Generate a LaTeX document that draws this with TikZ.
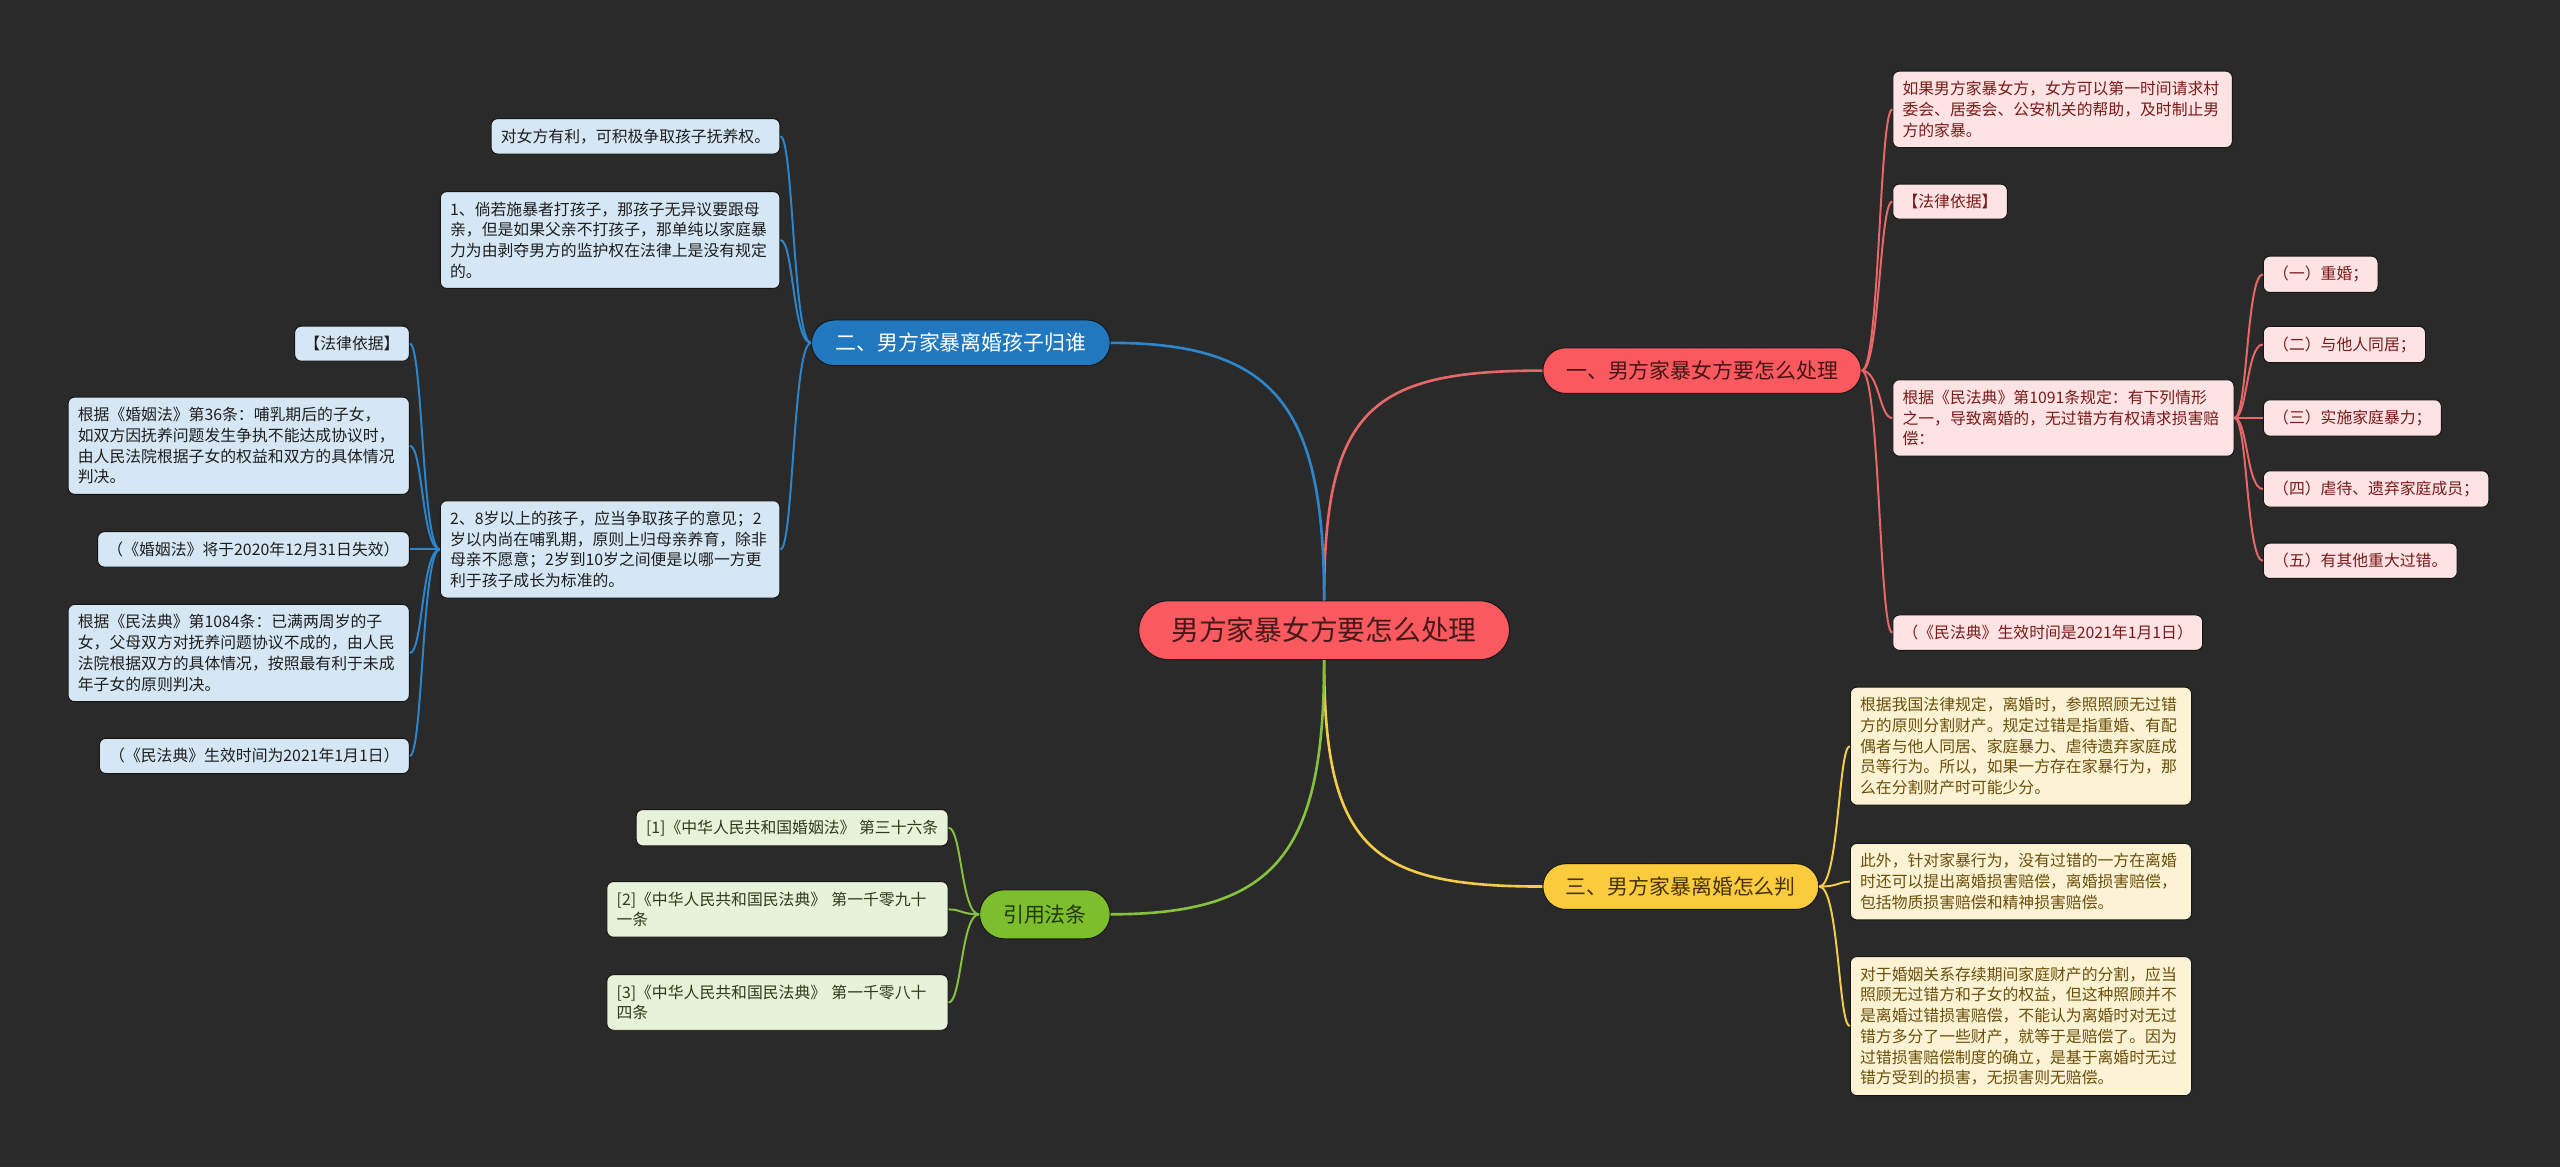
\documentclass[tikz,border=0pt]{standalone}
\usepackage{fontspec}
\setmainfont{Noto Sans CJK SC}
\definecolor{bg}{HTML}{2A2A2A}
\definecolor{redM}{HTML}{FA5A5F}
\definecolor{redL}{HTML}{E8686A}
\definecolor{redF}{HTML}{FDE3E3}
\definecolor{redT}{HTML}{7A1A1A}
\definecolor{blueM}{HTML}{2178BE}
\definecolor{blueL}{HTML}{2D86CC}
\definecolor{blueF}{HTML}{D5E7F4}
\definecolor{blueT}{HTML}{1E1E1E}
\definecolor{yelM}{HTML}{FBCB3E}
\definecolor{yelL}{HTML}{F3CC4A}
\definecolor{yelF}{HTML}{FCF3D5}
\definecolor{yelT}{HTML}{6B4E0A}
\definecolor{grnM}{HTML}{7DBE2D}
\definecolor{grnL}{HTML}{86C23E}
\definecolor{grnF}{HTML}{E8F2D8}
\definecolor{grnT}{HTML}{2D3A1E}
\definecolor{edge}{HTML}{161616}
\begin{document}
\begin{tikzpicture}[x=1pt,y=-1pt,
  box/.style={rounded corners=4pt, inner xsep=6pt, inner ysep=6.2pt, draw=edge, line width=0.6pt,
    font=\fontsize{9.7}{12.7}\selectfont, align=left},
  bbox/.style={box, fill=blueF, text=blueT},
  rbox/.style={box, fill=redF, text=redT},
  ybox/.style={box, fill=yelF, text=yelT},
  gbox/.style={box, fill=grnF, text=grnT},
  pill/.style={rounded corners=14pt, minimum height=28pt, inner sep=0pt, draw=edge, line width=0.6pt,
    font=\fontsize{12.8}{14}\selectfont},
  mainline/.style={line width=1.6pt},
  subline/.style={line width=1.2pt}
]
\useasboundingbox (0,0) rectangle (1568,715);
\fill[bg] (0,0) rectangle (1568,715);

% central and main branches
\node[pill, rounded corners=18pt, minimum width=227pt, minimum height=36pt, fill=redM, text={rgb,255:red,70;green,25;blue,25},
  font=\fontsize{17}{19}\selectfont] (C) at (811,386) {男方家暴女方要怎么处理};
\node[pill, minimum width=195pt, fill=redM, text={rgb,255:red,70;green,20;blue,20}] (n1) at (1042.5,227) {一、男方家暴女方要怎么处理};
\node[pill, minimum width=183pt, fill=blueM, text=white] (n2) at (588.5,210) {二、男方家暴离婚孩子归谁};
\node[pill, minimum width=169pt, fill=yelM, text={rgb,255:red,70;green,50;blue,10}] (n3) at (1029.5,543) {三、男方家暴离婚怎么判};
\node[pill, minimum width=80pt, minimum height=30pt, rounded corners=15pt, fill=grnM, text={rgb,255:red,35;green,55;blue,15}] (n4) at (640,560) {引用法条};

\draw[mainline, redL] (C.north) .. controls (811,250) and (840,227) .. (n1.west);
\draw[mainline, blueL] (C.north) .. controls (811,250) and (782,210) .. (n2.east);
\draw[mainline, yelL] (C.south) .. controls (811,520) and (840,543) .. (n3.west);
\draw[mainline, grnL] (C.south) .. controls (811,522) and (782,560) .. (n4.east);

% blue branch
\node[bbox, anchor=east] (c21) at (478,83.5) {对女方有利，可积极争取孩子抚养权。};
\node[bbox, anchor=east, text width=196pt] (c22) at (478,147) {1、倘若施暴者打孩子，那孩子无异议要跟母\\亲，但是如果父亲不打孩子，那单纯以家庭暴\\力为由剥夺男方的监护权在法律上是没有规定\\的。};
\node[bbox, anchor=east, text width=196pt] (c23) at (478,336.5) {2、8岁以上的孩子，应当争取孩子的意见；2\\岁以内尚在哺乳期，原则上归母亲养育，除非\\母亲不愿意；2岁到10岁之间便是以哪一方更\\利于孩子成长为标准的。};
\node[bbox, anchor=east] (d1) at (251,210.5) {【法律依据】};
\node[bbox, anchor=east, text width=197pt] (d2) at (251,273) {根据《婚姻法》第36条：哺乳期后的子女，\\如双方因抚养问题发生争执不能达成协议时，\\由人民法院根据子女的权益和双方的具体情况\\判决。};
\node[bbox, anchor=east] (d3) at (251,336.5) {（《婚姻法》将于2020年12月31日失效）};
\node[bbox, anchor=east, text width=197pt] (d4) at (251,400) {根据《民法典》第1084条：已满两周岁的子\\女，父母双方对抚养问题协议不成的，由人民\\法院根据双方的具体情况，按照最有利于未成\\年子女的原则判决。};
\node[bbox, anchor=east] (d5) at (251,463) {（《民法典》生效时间为2021年1月1日）};

\foreach \c in {c21,c22,c23} \draw[subline, blueL] (n2.west) .. controls +(-11,0) and +(8,0) .. (\c.east);
\foreach \c in {d1,d2,d3,d4,d5} \draw[subline, blueL] (c23.west) .. controls +(-11,0) and +(8,0) .. (\c.east);

% red branch
\node[rbox, anchor=west, text width=196pt] (r1) at (1159,67) {如果男方家暴女方，女方可以第一时间请求村\\委会、居委会、公安机关的帮助，及时制止男\\方的家暴。};
\node[rbox, anchor=west] (r2) at (1159,123.5) {【法律依据】};
\node[rbox, anchor=west, text width=197pt] (r3) at (1159,256) {根据《民法典》第1091条规定：有下列情形\\之一，导致离婚的，无过错方有权请求损害赔\\偿：};
\node[rbox, anchor=west] (r4) at (1159,387.5) {（《民法典》生效时间是2021年1月1日）};
\node[rbox, anchor=west] (s1) at (1386,168) {（一）重婚；};
\node[rbox, anchor=west] (s2) at (1386,211) {（二）与他人同居；};
\node[rbox, anchor=west] (s3) at (1386,256) {（三）实施家庭暴力；};
\node[rbox, anchor=west] (s4) at (1386,299.5) {（四）虐待、遗弃家庭成员；};
\node[rbox, anchor=west] (s5) at (1386,343.5) {（五）有其他重大过错。};

\foreach \c in {r1,r2,r3,r4} \draw[subline, redL] (n1.east) .. controls +(11,0) and +(-8,0) .. (\c.west);
\foreach \c in {s1,s2,s3,s4,s5} \draw[subline, redL] (r3.east) .. controls +(8,0) and +(-10,0) .. (\c.west);

% yellow branch
\node[ybox, anchor=west, text width=197pt] (y1) at (1133,457) {根据我国法律规定，离婚时，参照照顾无过错\\方的原则分割财产。规定过错是指重婚、有配\\偶者与他人同居、家庭暴力、虐待遗弃家庭成\\员等行为。所以，如果一方存在家暴行为，那\\么在分割财产时可能少分。};
\node[ybox, anchor=west, text width=197pt] (y2) at (1133,540) {此外，针对家暴行为，没有过错的一方在离婚\\时还可以提出离婚损害赔偿，离婚损害赔偿，\\包括物质损害赔偿和精神损害赔偿。};
\node[ybox, anchor=west, text width=197pt] (y3) at (1133,628.5) {对于婚姻关系存续期间家庭财产的分割，应当\\照顾无过错方和子女的权益，但这种照顾并不\\是离婚过错损害赔偿，不能认为离婚时对无过\\错方多分了一些财产，就等于是赔偿了。因为\\过错损害赔偿制度的确立，是基于离婚时无过\\错方受到的损害，无损害则无赔偿。};

\foreach \c in {y1,y2,y3} \draw[subline, yelL] (n3.east) .. controls +(12,0) and +(-7,0) .. (\c.west);

% green branch
\node[gbox, anchor=east] (g1) at (581,507) {[1]《中华人民共和国婚姻法》 第三十六条};
\node[gbox, anchor=east, text width=197pt] (g2) at (581,557) {[2]《中华人民共和国民法典》 第一千零九十\\一条};
\node[gbox, anchor=east, text width=197pt] (g3) at (581,614) {[3]《中华人民共和国民法典》 第一千零八十\\四条};

\foreach \c in {g1,g2,g3} \draw[subline, grnL] (n4.west) .. controls +(-11,0) and +(8,0) .. (\c.east);
\end{tikzpicture}
\end{document}
